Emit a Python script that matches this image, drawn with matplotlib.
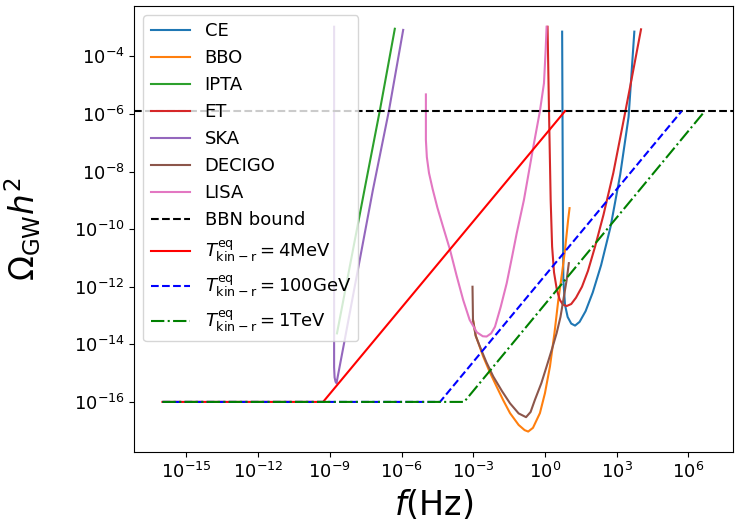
import matplotlib
matplotlib.use("Agg")
import matplotlib.pyplot as plt
import numpy as np

# detector sensitivity curves, log10(f/Hz) and log10(Omega h^2)
ce_logf = [0.72, 0.75, 0.77, 0.84, 0.95, 1.10, 1.26, 1.45, 1.70, 2.00, 2.35, 2.75, 3.15, 3.50, 3.74]
ce_logo = [-3.14, -8.99, -11.76, -12.63, -13.05, -13.28, -13.35, -13.22, -12.85, -12.20, -11.25, -9.90, -8.10, -6.10, -3.14]

bbo_logf = [-3.01, -2.89, -2.58, -2.30, -2.02, -1.74, -1.46, -1.10, -0.85, -0.70, -0.50, -0.21, 0.00, 0.21, 0.40, 0.56, 0.72, 0.84, 0.97, 1.03]
bbo_logo = [-13.15, -13.71, -14.43, -14.98, -15.47, -15.95, -16.39, -16.80, -16.98, -17.03, -16.90, -16.39, -15.70, -14.77, -13.60, -12.46, -11.50, -10.72, -9.68, -9.27]

ipta_logf = [-8.70, -8.10, -7.50, -6.90, -6.28]
ipta_logo = [-13.62, -11.02, -8.42, -5.85, -3.04]

et_logf = [0.11, 0.17, 0.24, 0.30, 0.38, 0.50, 0.62, 0.75, 0.91, 1.10, 1.30, 1.55, 1.80, 2.10, 2.45, 2.86, 3.25, 3.60, 4.02]
et_logo = [-2.97, -5.90, -8.99, -10.60, -11.50, -12.11, -12.45, -12.62, -12.67, -12.60, -12.38, -12.00, -11.45, -10.60, -9.50, -8.05, -6.40, -4.90, -3.06]

ska_logf = [-8.82, -8.82, -8.82, -8.80, -8.76, -8.72, -8.40, -7.80, -7.20, -6.53, -5.93]
ska_logo = [-2.97, -8.99, -14.80, -15.15, -15.30, -15.35, -13.95, -11.30, -8.65, -5.90, -3.08]

decigo_logf = [-3.03, -3.01, -2.90, -2.72, -2.45, -2.16, -1.80, -1.46, -1.10, -0.79, -0.60, -0.42, -0.15, 0.07, 0.30, 0.49, 0.65, 0.77, 0.91, 1.00]
decigo_logo = [-12.00, -13.15, -13.70, -14.08, -14.62, -15.12, -15.62, -16.05, -16.40, -16.53, -16.35, -15.93, -15.35, -14.77, -14.15, -13.61, -13.05, -12.46, -11.76, -11.18]

lisa_logf = [-4.98, -4.98, -4.94, -4.85, -4.70, -4.50, -4.25, -3.97, -3.70, -3.42, -3.15, -2.85, -2.60, -2.44, -2.25, -2.09, -1.85, -1.60, -1.38, -1.18, -0.88, -0.51, -0.21, -0.04, 0.03, 0.07]
lisa_logo = [-5.32, -6.90, -7.50, -8.05, -8.60, -9.25, -9.95, -10.72, -11.60, -12.46, -13.15, -13.58, -13.72, -13.73, -13.62, -13.39, -12.70, -11.88, -10.98, -10.14, -8.99, -7.25, -5.90, -4.93, -3.78, -2.97]

bbn_bound = 1.26e-6

# kination spectra: flat plateau then rising to the BBN bound
kin_logf = {"4MeV": [-16.0, -9.28, 0.84],
            "100GeV": [-16.0, -4.39, 5.72],
            "1TeV": [-16.0, -3.38, 6.69]}
kin_logo = [-16.0, -16.0, -5.90]

curves = [("CE", ce_logf, ce_logo),
          ("BBO", bbo_logf, bbo_logo),
          ("IPTA", ipta_logf, ipta_logo),
          ("ET", et_logf, et_logo),
          ("SKA", ska_logf, ska_logo),
          ("DECIGO", decigo_logf, decigo_logo),
          ("LISA", lisa_logf, lisa_logo)]

fig = plt.figure(figsize=(7.41, 5.23), dpi=100)
ax = fig.add_axes([0.1812, 0.1352, 0.8084, 0.8533])

for name, lf, lo in curves:
    ax.plot(10**np.array(lf), 10**np.array(lo), label=name)

ax.axhline(bbn_bound, color="k", ls="--", label="BBN bound")

styles = [("4MeV", "r-"), ("100GeV", "b--"), ("1TeV", "g-.")]
for T, st in styles:
    ax.plot(10**np.array(kin_logf[T]), 10**np.array(kin_logo), st,
            label=r"$T^{\rm eq}_{\rm kin-r}=\rm %s$" % T)

ax.set_xscale("log")
ax.set_yscale("log")
ax.set_xlim(10**-17.18, 10**7.88)
ax.set_ylim(10**-17.75, 10**-2.25)
ax.set_xticks([10.0**k for k in range(-15, 7, 3)])
ax.set_yticks([10.0**k for k in range(-16, -3, 2)])
ax.xaxis.set_minor_locator(matplotlib.ticker.NullLocator())
ax.yaxis.set_minor_locator(matplotlib.ticker.NullLocator())
ax.tick_params(labelsize=13)

ax.set_xlabel(r"$f$(Hz)", fontsize=24)
ax.set_ylabel(r"$\Omega_{\rm GW}h^2$", fontsize=23.5)
ax.yaxis.set_label_coords(-0.152, 0.5)
ax.legend(loc="upper left", fontsize=13, handlelength=2.2)

fig.savefig("out.png", dpi=100)
